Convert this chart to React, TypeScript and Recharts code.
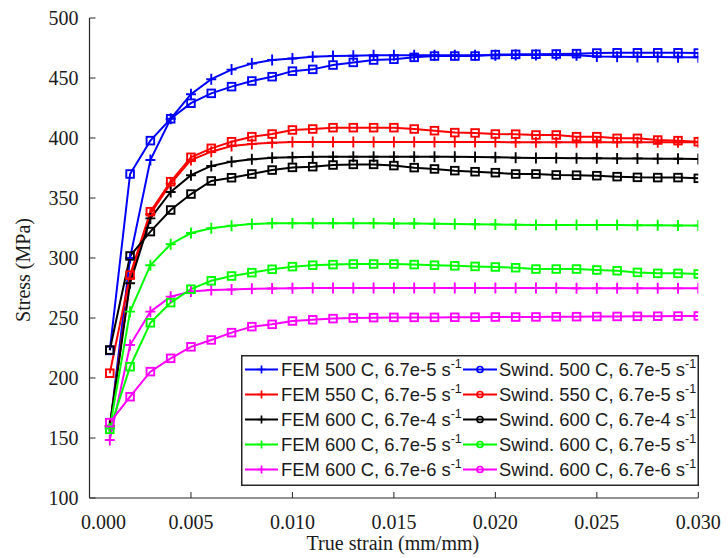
import React from 'react';
import { LineChart, Line, XAxis, YAxis, Legend } from 'recharts';

const strain = [
  0.001, 0.002, 0.003, 0.004, 0.005, 0.006, 0.007, 0.008, 0.009, 0.010,
  0.011, 0.012, 0.013, 0.014, 0.015, 0.016, 0.017, 0.018, 0.019, 0.020,
  0.021, 0.022, 0.023, 0.024, 0.025, 0.026, 0.027, 0.028, 0.029, 0.030,
];

const fem500 = [158, 300, 381.7, 416, 436.5, 449, 457, 462, 465, 466.3, 467.8, 468.3, 468.6, 468.9, 469, 469, 469, 469, 469, 469, 469.2, 469.2, 469.2, 469, 468, 467.8, 467.6, 467.5, 467.3, 467.2];
const fem550 = [160, 283, 336.7, 362, 381.7, 388.6, 393.3, 395, 396.1, 396.7, 396.6, 396.6, 396.6, 396.6, 396.6, 396.6, 396.6, 396.6, 396.6, 396.6, 396.5, 396.5, 396.5, 396.5, 396.5, 396.5, 396.5, 396.5, 396.5, 396.5];
const fem600a = [160, 279, 333, 355, 369, 376.7, 380.3, 382.2, 383.6, 383.9, 384.3, 384.4, 384.4, 384.4, 384.4, 384.4, 384.4, 384.3, 384.2, 384, 383.6, 383.4, 383.3, 383.2, 383.1, 383, 383, 382.8, 382.7, 382.5];
const fem600b = [158, 255.3, 294, 311.5, 320.8, 324.8, 326.9, 328.3, 328.9, 329, 329, 329, 329, 328.9, 328.8, 328.7, 328.5, 328.3, 328.1, 328, 327.7, 327.6, 327.5, 327.5, 327.5, 327.4, 327.3, 327.2, 327.1, 327];
const fem600c = [148.3, 227.5, 255.3, 267.8, 272, 273.3, 273.8, 274.3, 274.6, 274.8, 275, 275, 275, 275, 275, 275, 275, 275, 275, 275, 274.9, 274.9, 274.9, 274.8, 274.8, 274.8, 274.8, 274.7, 274.7, 274.7];

const swd500 = [223, 370, 397.8, 416, 429, 437.2, 442.8, 447.5, 451.1, 455.7, 457.2, 460.8, 463, 465, 465.6, 467.2, 468.3, 468.3, 468.3, 469.5, 469.7, 469.8, 470, 470.3, 470.8, 471, 471, 471, 471, 470.8];
const swd550 = [204, 285.8, 338.6, 363.6, 383.9, 391.4, 396.9, 401.1, 403.3, 406.7, 407.5, 408.6, 408.6, 408.6, 408.6, 407.5, 406.1, 404.5, 404.2, 403.3, 403.2, 402.5, 402.5, 401.1, 401.1, 399.7, 399.7, 398.3, 397.8, 396.9];
const swd600a = [223.3, 301.7, 322, 340, 353.3, 364.2, 366.9, 370, 373.3, 375.5, 376.1, 377.5, 378, 378, 377, 375.3, 374.2, 372.8, 371.9, 371.1, 370, 370, 369.2, 369, 368.6, 367.8, 367.2, 367, 367, 366.4];
const swd600b = [157.2, 209.4, 246, 262.8, 274, 281, 285, 287.8, 290.6, 292.8, 294, 294.5, 295, 295, 295, 294.5, 294, 293.5, 293, 292.5, 291.9, 290.8, 290.8, 290.8, 290, 289.4, 288, 287.2, 287.2, 286.7];
const swd600c = [162.8, 184.4, 205.3, 216.4, 226, 231.7, 237.8, 242.8, 244.7, 247.5, 248.5, 249.5, 250, 250.3, 250.5, 250.5, 250.5, 250.6, 250.7, 250.8, 250.8, 250.9, 251, 251.1, 251.2, 251.3, 251.4, 251.5, 251.6, 251.7];

const xTicks = [0, 0.005, 0.01, 0.015, 0.02, 0.025, 0.03];
const yTicks = [100, 150, 200, 250, 300, 350, 400, 450, 500];

const legendLabels = [
  'FEM 500 C, 6.7e-5 s', 'FEM 550 C, 6.7e-5 s', 'FEM 600 C, 6.7e-4 s', 'FEM 600 C, 6.7e-5 s', 'FEM 600 C, 6.7e-6 s',
  'Swind. 500 C, 6.7e-5 s', 'Swind. 550 C, 6.7e-5 s', 'Swind. 600 C, 6.7e-4 s', 'Swind. 600 C, 6.7e-5 s', 'Swind. 600 C, 6.7e-6 s',
];
const colors = ['#0000FF', '#FF0000', '#000000', '#00FF00', '#FF00FF'];

const series = [
  { key: 'fem500', values: fem500, color: colors[0], marker: 'plus', label: legendLabels[0] },
  { key: 'fem550', values: fem550, color: colors[1], marker: 'plus', label: legendLabels[1] },
  { key: 'fem600a', values: fem600a, color: colors[2], marker: 'plus', label: legendLabels[2] },
  { key: 'fem600b', values: fem600b, color: colors[3], marker: 'plus', label: legendLabels[3] },
  { key: 'fem600c', values: fem600c, color: colors[4], marker: 'plus', label: legendLabels[4] },
  { key: 'swd500', values: swd500, color: colors[0], marker: 'square', label: legendLabels[5] },
  { key: 'swd550', values: swd550, color: colors[1], marker: 'square', label: legendLabels[6] },
  { key: 'swd600a', values: swd600a, color: colors[2], marker: 'square', label: legendLabels[7] },
  { key: 'swd600b', values: swd600b, color: colors[3], marker: 'square', label: legendLabels[8] },
  { key: 'swd600c', values: swd600c, color: colors[4], marker: 'square', label: legendLabels[9] },
];

const data = strain.map((s, i) => {
  const row: Record<string, number> = { strain: s };
  series.forEach((se) => {
    row[se.key] = se.values[i];
  });
  return row;
});

const AXIS = '#262626';
const SERIF = '"Liberation Serif", "Times New Roman", serif';
const SANS = '"Liberation Sans", Arial, sans-serif';
const LW = 2;

const makeDot = (color: string, marker: string) => (props: any) => {
  const { cx, cy, index } = props;
  if (cx == null || cy == null) return <g key={`d${index}`} />;
  if (marker === 'plus') {
    return (
      <path
        key={`d${index}`}
        d={`M${cx - 5},${cy}H${cx + 5}M${cx},${cy - 5.5}V${cy + 5.5}`}
        stroke={color}
        strokeWidth={1.9}
        fill="none"
      />
    );
  }
  return (
    <rect
      key={`d${index}`}
      x={cx - 3.8}
      y={cy - 3.8}
      width={7.6}
      height={7.6}
      stroke={color}
      strokeWidth={1.9}
      fill="none"
    />
  );
};

const XTick = (props: any) => {
  const { x, y, payload, index } = props;
  const v = payload.value as number;
  const shift = index === 0 ? 14 : 0;
  return (
    <g>
      <line x1={x} y1={y} x2={x} y2={y - 6} stroke={AXIS} strokeWidth={1} />
      <text x={x + shift} y={y + 30.5} textAnchor="middle" fontFamily={SERIF} fontSize={20} fill="#1a1a1a">
        {v.toFixed(3)}
      </text>
    </g>
  );
};

const YTick = (props: any) => {
  const { x, y, payload } = props;
  return (
    <g>
      <line x1={x} y1={y} x2={x + 6} y2={y} stroke={AXIS} strokeWidth={1} />
      <text x={x - 11} y={y + 7} textAnchor="end" fontFamily={SERIF} fontSize={20} fill="#1a1a1a">
        {payload.value}
      </text>
    </g>
  );
};

const XTitle = (props: any) => {
  const vb = props.viewBox || { x: 89.5, y: 498, width: 609, height: 60 };
  return (
    <text x={vb.x + vb.width / 2 - 1} y={550} textAnchor="middle" fontFamily={SERIF} fontSize={20} fill="#1a1a1a">
      True strain (mm/mm)
    </text>
  );
};

const YTitle = (props: any) => {
  const vb = props.viewBox || { x: 29.5, y: 18, width: 60, height: 480 };
  const cx = 23;
  const cy = vb.y + vb.height / 2 + 12;
  return (
    <text
      x={0}
      y={0}
      transform={`translate(${cx},${cy}) rotate(-90)`}
      textAnchor="middle"
      dy="0.35em"
      fontFamily={SERIF}
      fontSize={20}
      fill="#1a1a1a"
    >
      Stress (MPa)
    </text>
  );
};

const LegendBox = () => {
  const rowY = (i: number) => 14.5 + i * 25;
  const cols = [
    { lx1: 4, lx2: 37, mx: 20.5, tx: 40 },
    { lx1: 222, lx2: 256, mx: 239, tx: 258 },
  ];
  return (
    <svg width={458} height={131} style={{ display: 'block' }}>
      <rect x={0.75} y={0.75} width={456.5} height={129.5} fill="#fff" stroke={AXIS} strokeWidth={1.5} />
      {series.map((se, idx) => {
        const c = cols[idx < 5 ? 0 : 1];
        const y = rowY(idx % 5);
        return (
          <g key={se.key}>
            <line x1={c.lx1} y1={y} x2={c.lx2} y2={y} stroke={se.color} strokeWidth={LW} />
            {se.marker === 'plus' ? (
              <path d={`M${c.mx - 4},${y}H${c.mx + 4}M${c.mx},${y - 4}V${y + 4}`} stroke={se.color} strokeWidth={1.7} fill="none" />
            ) : (
              <circle cx={c.mx} cy={y} r={3} stroke={se.color} strokeWidth={1.7} fill="none" />
            )}
            <text x={c.tx} y={y + 6.5} fontFamily={SANS} fontSize={18.4} fill="#1a1a1a">
              {se.label}
              <tspan dy={-8} fontSize={12.5}>-1</tspan>
            </text>
          </g>
        );
      })}
    </svg>
  );
};

export default function App() {
  return (
    <div style={{ position: 'absolute', left: 0, top: 0, width: 728, height: 558, background: '#fff' }}>
      <LineChart width={728} height={558} data={data} margin={{ top: 18, right: 29.7, bottom: 0, left: 29.5 }}>
        <XAxis
          dataKey="strain"
          type="number"
          domain={[0, 0.03]}
          ticks={xTicks}
          tickSize={0}
          tickMargin={0}
          tickLine={false}
          tick={<XTick />}
          height={60}
          axisLine={{ stroke: AXIS, strokeWidth: 1.2 }}
          interval={0}
          allowDataOverflow
          label={<XTitle />}
        />
        <YAxis
          type="number"
          domain={[100, 500]}
          ticks={yTicks}
          tickSize={0}
          tickMargin={0}
          tickLine={false}
          tick={<YTick />}
          width={60}
          axisLine={{ stroke: AXIS, strokeWidth: 1.2 }}
          interval={0}
          allowDataOverflow
          label={<YTitle />}
        />
        {series.map((se) => (
          <Line
            key={se.key}
            dataKey={se.key}
            type="linear"
            stroke={se.color}
            strokeWidth={LW}
            dot={makeDot(se.color, se.marker)}
            activeDot={false}
            isAnimationActive={false}
          />
        ))}
        <Legend
          layout="horizontal"
          verticalAlign="middle"
          align="center"
          content={() => <LegendBox />}
          wrapperStyle={{ position: 'absolute', left: 241, top: 355, width: 458, height: 131 }}
        />
      </LineChart>
    </div>
  );
}
